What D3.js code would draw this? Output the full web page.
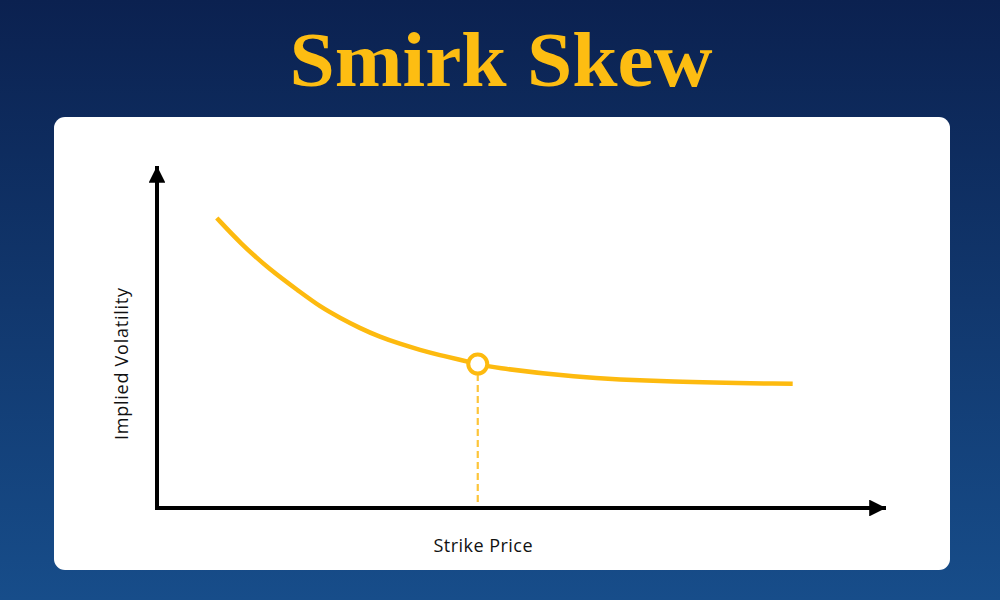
<!DOCTYPE html>
<html>
<head>
<meta charset="utf-8">
<script src="https://cdn.jsdelivr.net/npm/d3@7"></script>
<style>
  html, body { margin: 0; padding: 0; }
  body { width: 1000px; height: 600px; overflow: hidden; }
</style>
</head>
<body>
<svg id="chart" width="1000" height="600"></svg>
<script>
// (strike on 0-100, implied vol on 0-100)
const strikes = [8.2, 11.4, 15.5, 19.6, 22.4, 25.1, 27.8, 30.6, 33.3, 36.1, 38.8, 41.6, 44, 45.7, 56.7, 70.4, 87.2];
const vols = [84.8, 77.5, 69.6, 63.2, 58.8, 55.6, 52.6, 50, 48, 46.2, 44.7, 43.3, 42.1, 41.2, 38.3, 36.8, 36.3];
const atmStrike = 44;
const atmVol = 42.1;

const titleText = "Smirk Skew";
const xLabel = "Strike Price";
const yLabel = "Implied Volatility";

const yellow = "#FDBA0F";

let svg = d3.select("#chart");

// background
let defs = svg.append("defs");
let bg = defs.append("linearGradient")
  .attr("id", "bg")
  .attr("x1", 0).attr("y1", 0).attr("x2", 0).attr("y2", 1);
bg.append("stop").attr("offset", "0%").attr("stop-color", "#0b2150");
bg.append("stop").attr("offset", "100%").attr("stop-color", "#174d8a");

svg.append("rect")
  .attr("width", 1000).attr("height", 600)
  .attr("fill", "url(#bg)");

svg.append("text")
  .attr("x", 501)
  .attr("y", 86)
  .attr("text-anchor", "middle")
  .attr("font-family", "Liberation Serif, DejaVu Serif, serif")
  .attr("font-weight", "bold")
  .attr("font-size", 78)
  .attr("textLength", 423)
  .attr("lengthAdjust", "spacingAndGlyphs")
  .attr("fill", "#FDBD12")
  .text(titleText);

// card
svg.append("rect")
  .attr("x", 54).attr("y", 117)
  .attr("width", 896).attr("height", 453)
  .attr("rx", 11)
  .attr("fill", "#ffffff");

let x = d3.scaleLinear().domain([0, 100]).range([157, 886]);
let y = d3.scaleLinear().domain([0, 100]).range([508, 166]);

// arrow heads
defs.append("marker")
  .attr("id", "arrow")
  .attr("viewBox", "0 0 10 10")
  .attr("refX", 10).attr("refY", 5)
  .attr("markerWidth", 5).attr("markerHeight", 4.2)
  .attr("markerUnits", "strokeWidth")
  .attr("orient", "auto")
  .append("path")
  .attr("d", "M0,0 L10,5 L0,10 Z")
  .attr("fill", "#000");

// axes
svg.append("line")
  .attr("x1", x(0) - 2).attr("y1", y(0))
  .attr("x2", x(100)).attr("y2", y(0))
  .attr("stroke", "#000").attr("stroke-width", 4)
  .attr("marker-end", "url(#arrow)");

svg.append("line")
  .attr("x1", x(0)).attr("y1", y(0) + 2)
  .attr("x2", x(0)).attr("y2", y(100))
  .attr("stroke", "#000").attr("stroke-width", 4)
  .attr("marker-end", "url(#arrow)");

// dashed drop line
svg.append("line")
  .attr("x1", x(atmStrike)).attr("y1", y(atmVol) + 10)
  .attr("x2", x(atmStrike)).attr("y2", y(0) - 2)
  .attr("stroke", "#FDC53A").attr("stroke-width", 2.2)
  .attr("stroke-dasharray", "7,4");

// curve
let line = d3.line()
  .x((d, i) => x(strikes[i]))
  .y((d, i) => y(vols[i]))
  .curve(d3.curveBasis);

svg.append("path")
  .datum(strikes)
  .attr("d", line)
  .attr("fill", "none")
  .attr("stroke", yellow)
  .attr("stroke-width", 4.5);

svg.append("circle")
  .attr("cx", x(atmStrike))
  .attr("cy", y(atmVol))
  .attr("r", 9.5)
  .attr("fill", "#fff")
  .attr("stroke", yellow)
  .attr("stroke-width", 4);

// labels
svg.append("text")
  .attr("x", 483)
  .attr("y", 552)
  .attr("text-anchor", "middle")
  .attr("font-family", "Open Sans, Inter, sans-serif")
  .attr("font-size", 18)
  .attr("textLength", 99)
  .attr("lengthAdjust", "spacing")
  .attr("fill", "#111")
  .text(xLabel);

svg.append("text")
  .attr("transform", "translate(128,364) rotate(-90)")
  .attr("text-anchor", "middle")
  .attr("font-family", "Open Sans, Inter, sans-serif")
  .attr("font-size", 18)
  .attr("textLength", 152)
  .attr("lengthAdjust", "spacing")
  .attr("fill", "#111")
  .text(yLabel);
</script>
</body>
</html>
